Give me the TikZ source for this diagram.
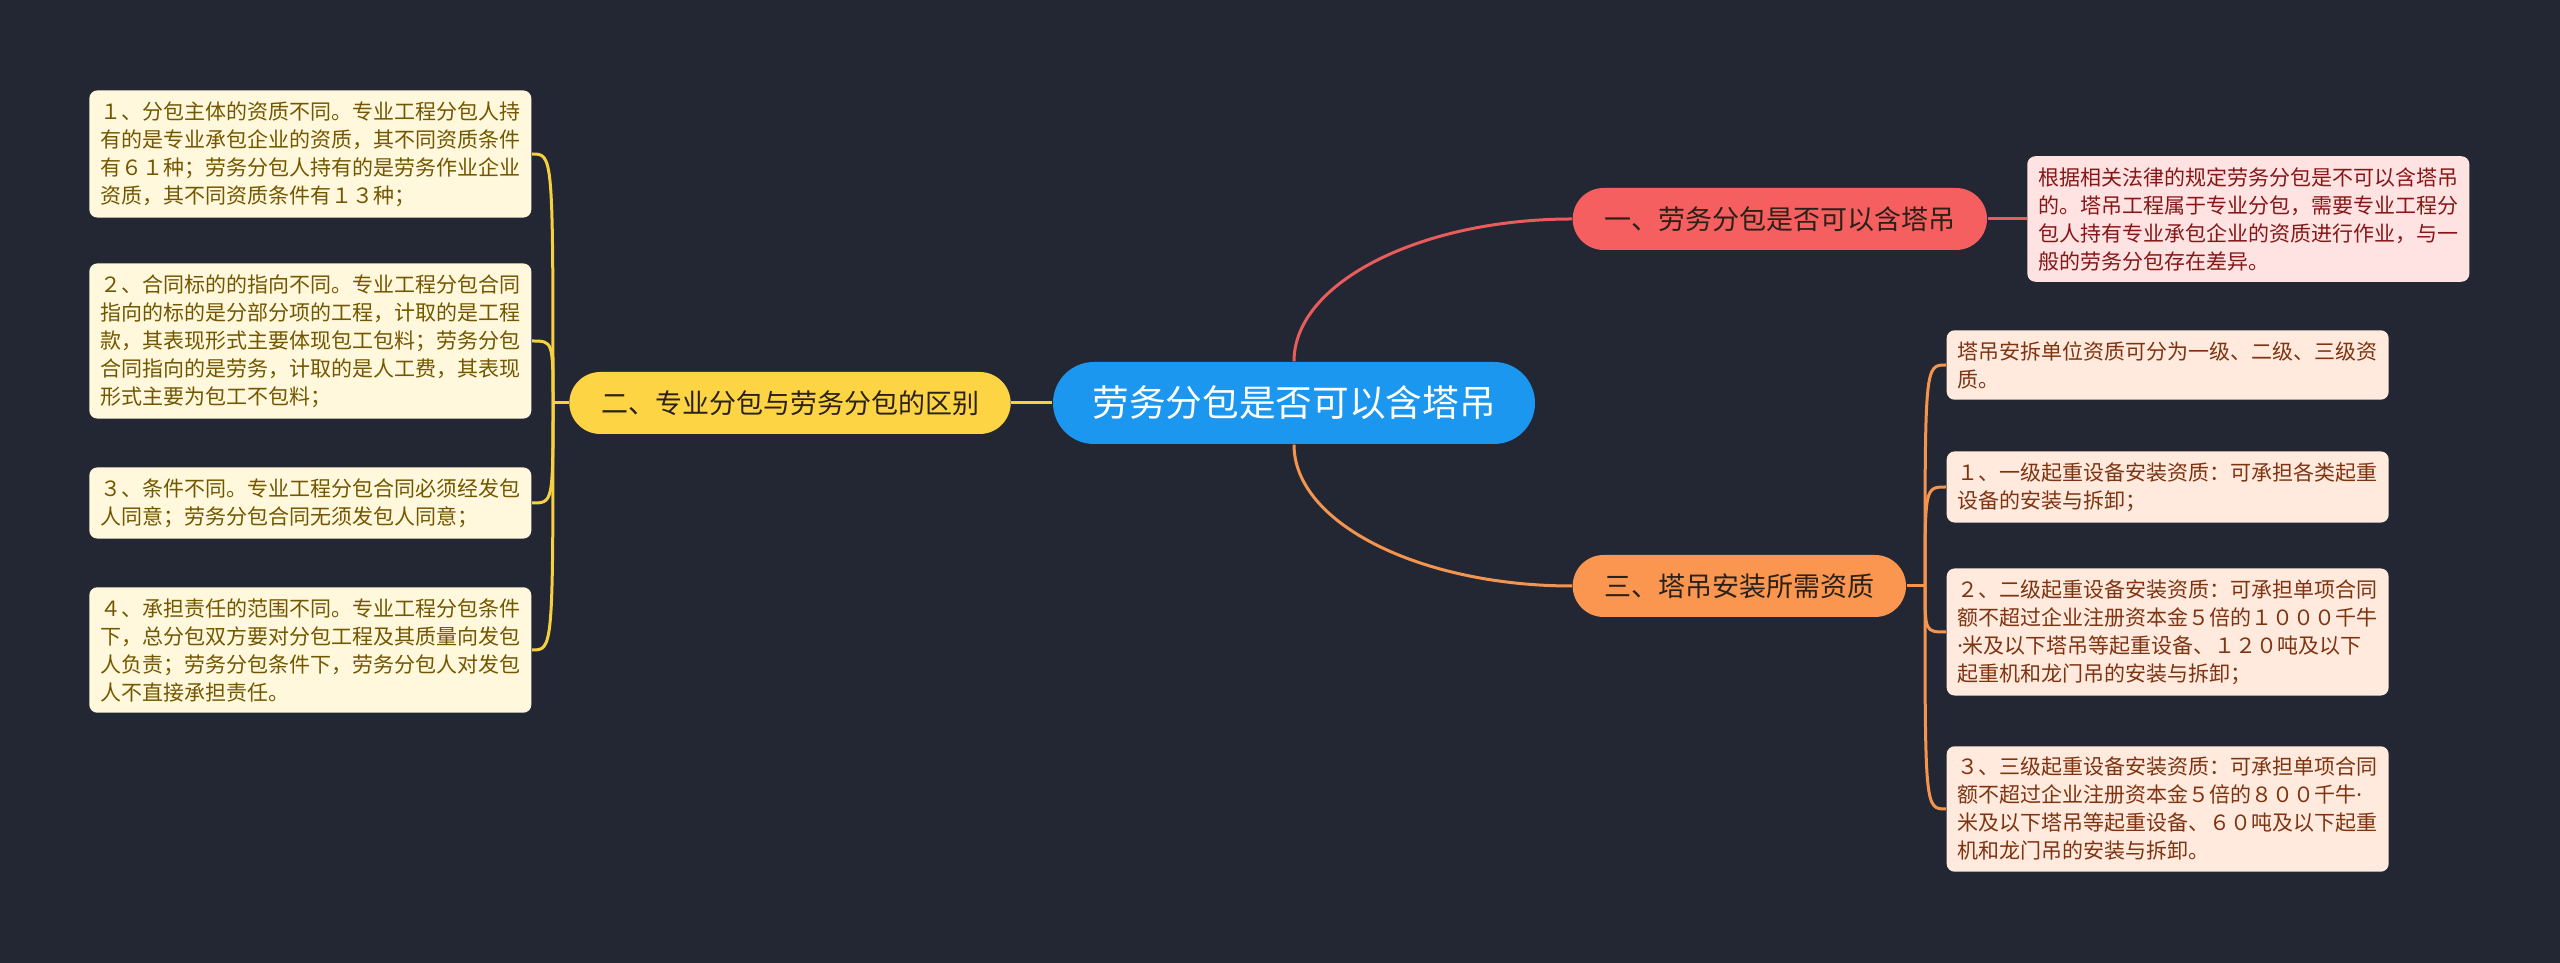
\documentclass[tikz,border=0pt]{standalone}
\usepackage{fontspec}
\setmainfont{Noto Sans CJK SC}
\newfontfamily\latinfont{Noto Sans}
\usepackage{tikz}
\usetikzlibrary{
  positioning,
  calc
}
\definecolor{mmBg}{HTML}{232733}
\definecolor{mmRoot}{HTML}{1C97EF}
\definecolor{mmRed}{HTML}{F65F5F}
\definecolor{mmRedLine}{HTML}{E85C5C}
\definecolor{mmRedLeaf}{HTML}{FFE2E2}
\definecolor{mmRedText}{HTML}{861717}
\definecolor{mmYellow}{HTML}{FDD444}
\definecolor{mmYellowLine}{HTML}{F5D142}
\definecolor{mmYellowLeaf}{HTML}{FFF8DC}
\definecolor{mmYellowText}{HTML}{735600}
\definecolor{mmOrange}{HTML}{FA9650}
\definecolor{mmOrangeLine}{HTML}{F4954F}
\definecolor{mmOrangeLeaf}{HTML}{FFEADD}
\definecolor{mmOrangeText}{HTML}{7E3311}
\definecolor{mmDark}{HTML}{2B2118}
\newcommand{\mdot}{{\latinfont ·}}
\tikzset{
  rootnode/.style={
    fill=mmRoot, text=white, rounded corners=12.3pt,
    minimum width=144.6pt, minimum height=24.6pt, inner sep=0pt,
    font=\fontsize{11pt}{13pt}\selectfont
  },
  branch/.style={
    rounded corners=9.3pt, minimum height=18.6pt, inner xsep=9.5pt, inner ysep=0pt,
    text=mmDark, font=\fontsize{8.1pt}{9.7pt}\selectfont
  },
  leaf/.style={
    rounded corners=2.4pt, align=left, text width=126.2pt,
    inner xsep=3.2pt, inner ysep=3.3pt,
    font=\fontsize{6.3pt}{8.4pt}\selectfont
  },
  redleaf/.style={leaf, fill=mmRedLeaf, text=mmRedText},
  yellowleaf/.style={leaf, fill=mmYellowLeaf, text=mmYellowText, anchor=east},
  orangeleaf/.style={leaf, fill=mmOrangeLeaf, text=mmOrangeText, anchor=west},
  link/.style={line width=0.9pt},
  yellowlink/.style={link, mmYellowLine},
  redlink/.style={link, mmRedLine},
  orangelink/.style={link, mmOrangeLine}
}

\begin{document}
\begin{tikzpicture}[x=0.3pt, y=-0.3pt]
  \fill[mmBg] (0,0) rectangle (2560,963);
  \useasboundingbox (0,0) rectangle (2560,963);

  % centre and main branches
  \node[rootnode] (root) at (1294,403) {劳务分包是否可以含塔吊};
  \node[branch, fill=mmYellow, left=12.3pt of root] (yb) {二、专业分包与劳务分包的区别};
  \node[branch, fill=mmRed, anchor=west] (rb) at (1572,219) {一、劳务分包是否可以含塔吊};
  \node[branch, fill=mmOrange, anchor=west] (ob) at (1572,586) {三、塔吊安装所需资质};

  % right: red leaf
  \node[redleaf, anchor=west, right=11.7pt of rb] (rl) {根据相关法律的规定劳务分包是不可以含塔吊\\的。塔吊工程属于专业分包，需要专业工程分\\包人持有专业承包企业的资质进行作业，与一\\般的劳务分包存在差异。};

  % left: yellow leaves
  \node[yellowleaf] (y1) at (532,154) {１、分包主体的资质不同。专业工程分包人持\\有的是专业承包企业的资质，其不同资质条件\\有６１种；劳务分包人持有的是劳务作业企业\\资质，其不同资质条件有１３种；};
  \node[yellowleaf] (y2) at (532,341) {２、合同标的的指向不同。专业工程分包合同\\指向的标的是分部分项的工程，计取的是工程\\款，其表现形式主要体现包工包料；劳务分包\\合同指向的是劳务，计取的是人工费，其表现\\形式主要为包工不包料；};
  \node[yellowleaf] (y3) at (532,503) {３、条件不同。专业工程分包合同必须经发包\\人同意；劳务分包合同无须发包人同意；};
  \node[yellowleaf] (y4) at (532,650) {４、承担责任的范围不同。专业工程分包条件\\下，总分包双方要对分包工程及其质量向发包\\人负责；劳务分包条件下，劳务分包人对发包\\人不直接承担责任。};

  % right: orange leaves
  \node[orangeleaf] (o1) at (1946,365) {塔吊安拆单位资质可分为一级、二级、三级资\\质。};
  \node[orangeleaf] (o2) at (1946,487) {１、一级起重设备安装资质：可承担各类起重\\设备的安装与拆卸；};
  \node[orangeleaf] (o3) at (1946,632) {２、二级起重设备安装资质：可承担单项合同\\额不超过企业注册资本金５倍的１０００千牛\\\mdot 米及以下塔吊等起重设备、１２０吨及以下\\起重机和龙门吊的安装与拆卸；};
  \node[orangeleaf] (o4) at (1946,809) {３、三级起重设备安装资质：可承担单项合同\\额不超过企业注册资本金５倍的８００千牛\mdot\\米及以下塔吊等起重设备、６０吨及以下起重\\机和龙门吊的安装与拆卸。};

  \coordinate (yj) at (553,403);
  \coordinate (oj) at (1925,586);

  % connectors
  \draw[redlink] (root.north) .. controls +(0,-79) and +(-151,0) .. (rb.west);
  \draw[orangelink] (root.south) .. controls +(0,79) and +(-151,0) .. (ob.west);
  \draw[yellowlink] (root.west) -- (yb.east);
  \draw[redlink] (rb.east) -- (rl.west);
  \draw[yellowlink] (yb.west) -- (yj);
  \foreach \n in {y1,y2,y3,y4}
    \draw[yellowlink] (yj) .. controls (yj |- \n.east) .. (\n.east);
  \draw[orangelink] (ob.east) -- (oj);
  \foreach \n in {o1,o2,o3,o4}
    \draw[orangelink] (oj) .. controls (oj |- \n.west) .. (\n.west);
\end{tikzpicture}
\end{document}
